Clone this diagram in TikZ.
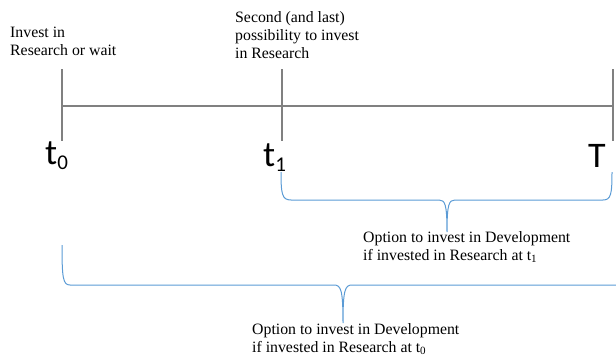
\documentclass[tikz,border=0pt]{standalone}
\usepackage{fontspec}
\setmainfont{Liberation Serif}
\newfontfamily\calfont{Carlito}
\usetikzlibrary{positioning}
\definecolor{axisgray}{RGB}{128,128,128}
\definecolor{bracebl}{RGB}{91,155,213}
\newcommand\tsub[1]{\raisebox{-5pt}{\fontsize{21}{24}\selectfont#1}}

\begin{document}
\begin{tikzpicture}[x=1pt,y=-1pt,
	axisline/.style={draw=axisgray,line width=2pt},
	bracket/.style={draw=bracebl,line width=1pt},
	note/.style={anchor=base west,inner sep=0pt,align=left,font=\fontsize{15.8}{18}\selectfont},
	tlabel/.style={anchor=base west,inner sep=0pt,font=\fontsize{36}{40}\calfont}]
				\useasboundingbox (0,0) rectangle (616,356);
				
				% time axis
				\draw[axisline] (62,106) -- (613,106);
				\foreach \x in {62,282,613}
					\draw[axisline] (\x,69) -- (\x,141);
				
				\node[tlabel] (tzero) at (45,164) {t\tsub{0}};
				\node[tlabel] (tone) at (263,166) {t\tsub{1}};
				\node[tlabel] (tend) at (588,167) {T};
				
				% base = last line
				\node[note] (wait) at (10,55) {Invest in\\Research or wait};
				\node[note] (second) at (235,58) {Second (and last)\\possibility to invest\\in Research};
				
				% braces
				\draw[bracket] (281,172) .. controls (281,194) and (282,200) .. (291,200) -- (439,200)
					.. controls (445,200) and (447,204) .. (447,232)
					.. controls (447,204) and (449,200) .. (455,200) -- (603,200)
					.. controls (611,200) and (612,194) .. (612,172);
				\draw[bracket] (62,245) .. controls (62,278) and (63,285) .. (70,285) -- (334,285)
					.. controls (341,285) and (343,290) .. (343,323)
					.. controls (343,290) and (345,285) .. (352,285) -- (616,285);
				
				\node[note] (optone) at (363,260) {Option to invest in Development\\if invested in Research at t\textsubscript{1}};
				\node[note] (optzero) at (252,352) {Option to invest in Development\\if invested in Research at t\textsubscript{0}};
			\end{tikzpicture}
\end{document}
